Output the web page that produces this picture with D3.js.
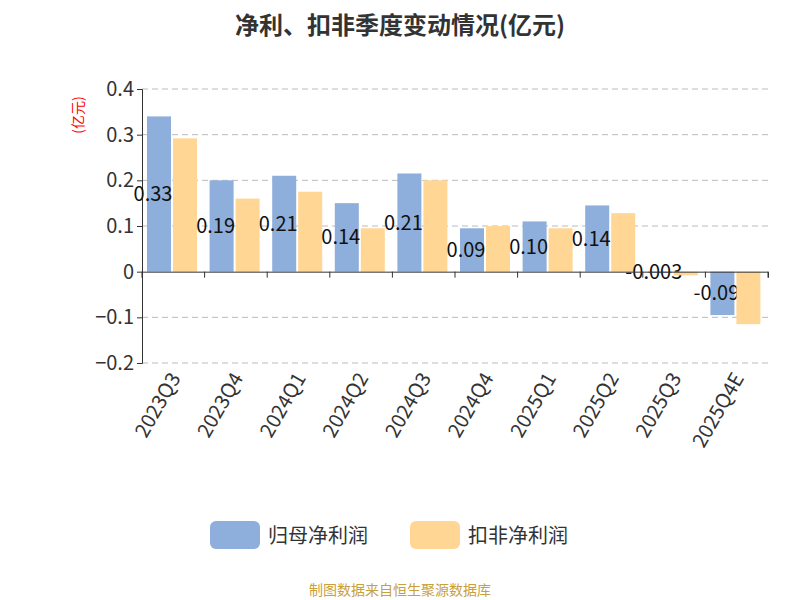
<!DOCTYPE html><html><head><meta charset="utf-8"><script src="https://cdn.jsdelivr.net/npm/d3@7"></script>
<style>body{margin:0;background:#fff}text{font-family:"Noto Sans CJK SC","Noto Sans",sans-serif}</style></head><body>
<svg id="c" width="800" height="600"></svg>
<script>
const categories=["2023Q3","2023Q4","2024Q1","2024Q2","2024Q3","2024Q4","2025Q1","2025Q2","2025Q3","2025Q4E"];
const netProfit=[0.34,0.20,0.21,0.15,0.215,0.095,0.11,0.145,-0.003,-0.095];
const netLabels=["0.33","0.19","0.21","0.14","0.21","0.09","0.10","0.14","-0.003","-0.09"];
const deducted=[0.292,0.16,0.175,0.095,0.20,0.10,0.095,0.128,-0.008,-0.115];
const yTicks=[0.4,0.3,0.2,0.1,0,-0.1,-0.2];
const seriesNames=["归母净利润","扣非净利润"];
const colors=["#8eaedb","#ffd694"];
const svg=d3.select("#c");
const x=d3.scaleBand().domain(categories).range([142,768]);
const y=d3.scaleLinear().domain([-0.2,0.4]).range([363,89]);
svg.append("text").attr("x",400).attr("y",34).attr("text-anchor","middle").attr("font-size",24).attr("font-weight","bold").attr("fill","#333").text("净利、扣非季度变动情况(亿元)");
const g=svg.append("g");
yTicks.forEach(t=>{if(t!==0)g.append("line").attr("x1",142).attr("x2",768).attr("y1",y(t)).attr("y2",y(t)).attr("stroke","#bbb").attr("stroke-dasharray","6,4");});
const ya=svg.append("g").attr("transform","translate(142,0)").call(d3.axisLeft(y).tickValues(yTicks).tickFormat(d=>d===0?"0":d3.format("")(d)).tickSize(5));
ya.selectAll("text").attr("font-size",20).attr("fill","#333");ya.select(".domain").attr("stroke","#333");ya.selectAll(".tick line").attr("stroke","#333");
const bw=24;
categories.forEach((c,i)=>{
 const x0=x(c)+5;
 g.append("rect").attr("x",x0).attr("width",bw).attr("y",y(Math.max(0,netProfit[i]))).attr("height",Math.abs(y(netProfit[i])-y(0))).attr("fill",colors[0]);
});
categories.forEach((c,i)=>{
 const x0=x(c)+5;
 svg.append("text").attr("x",x0+bw/2-6).attr("y",(y(netProfit[i])+y(0))/2+7).attr("text-anchor","middle").attr("font-size",20).attr("fill","#111").text(netLabels[i]);
 svg.append("rect").attr("x",x0+bw+2).attr("width",bw).attr("y",y(Math.max(0,deducted[i]))).attr("height",Math.abs(y(deducted[i])-y(0))).attr("fill",colors[1]);
});
const xa=svg.append("g").attr("transform",`translate(0,${y(0)})`).call(d3.axisBottom(x).tickSize(6).tickFormat(""));
xa.select(".domain").attr("stroke","#333");xa.selectAll(".tick line").attr("transform",`translate(${-x.bandwidth()/2},0)`).attr("stroke","#333");
svg.append("line").attr("x1",768).attr("x2",768).attr("y1",y(0)).attr("y2",y(0)+6).attr("stroke","#333");
categories.forEach(c=>{
 const cx=x(c)+x.bandwidth()/2+8;
 svg.append("text").attr("transform",`translate(${cx},378) rotate(-60)`).attr("text-anchor","end").attr("font-size",20).attr("fill","#333").text(c);
});
svg.append("text").attr("transform","translate(83,115) rotate(-90)").attr("text-anchor","middle").attr("font-size",14).attr("fill","red").text("(亿元)");
[[210,0],[410,1]].forEach(([lx,i])=>{
 svg.append("rect").attr("x",lx).attr("y",521).attr("width",50).attr("height",28).attr("rx",6).attr("fill",colors[i]);
 svg.append("text").attr("x",lx+58).attr("y",543).attr("font-size",20).attr("fill","#333").text(seriesNames[i]);
});
svg.append("text").attr("x",400).attr("y",595).attr("text-anchor","middle").attr("font-size",14).attr("fill","#c8a03c").text("制图数据来自恒生聚源数据库");
</script></body></html>
